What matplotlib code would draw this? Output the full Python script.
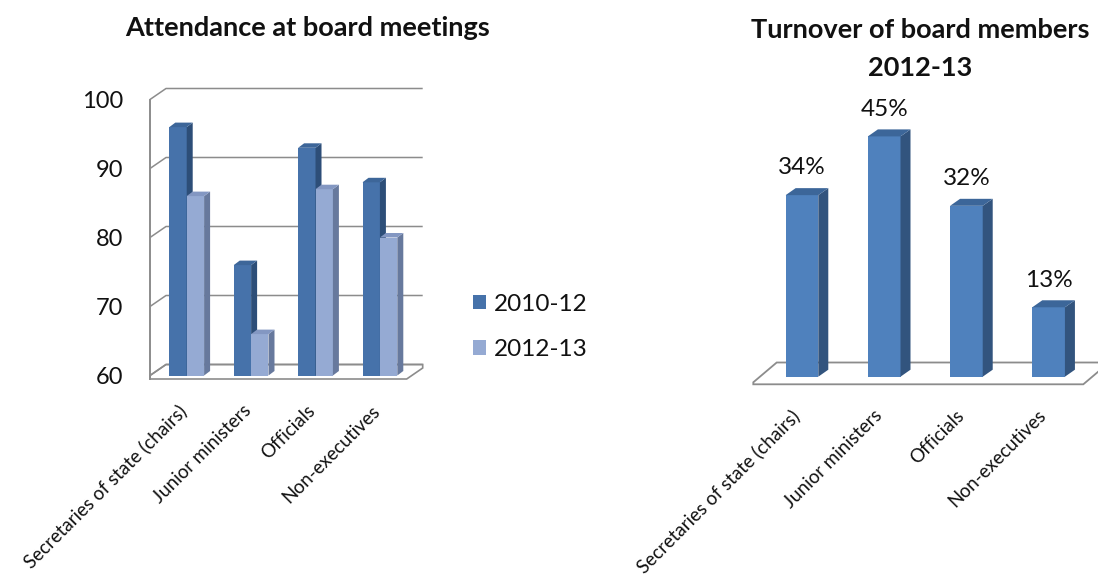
import matplotlib
matplotlib.use('Agg')
import matplotlib.pyplot as plt
from matplotlib.patches import Polygon
import numpy as np

# ---------------- data ----------------
categories = ['Secretaries of state (chairs)', 'Junior ministers', 'Officials', 'Non-executives']
series_names = ['2010-12', '2012-13']
attendance_2010_12 = [96, 76, 93, 88]
attendance_2012_13 = [86, 66, 87, 80]
attendance_ticks = [60, 70, 80, 90, 100]
turnover_2012_13 = [34, 45, 32, 13]
turnover_labels = ['34%', '45%', '32%', '13%']
title_left = 'Attendance at board meetings'
title_right = ['Turnover of board members', '2012-13']

# ---------------- style ----------------
plt.rcParams['font.family'] = ['Lato', 'DejaVu Sans']
TXT = '#111111'
GRID = '#8c8c8c'
DARK = ('#4672AA', '#2D4E78', '#3D6699')    # front, side, top
LIGHT = ('#95AAD3', '#67799D', '#8397C2')
RBAR = ('#4F81BD', '#32547E', '#3C6699')

W, H = 1098, 576
fig = plt.figure(figsize=(W / 100, H / 100), dpi=100)


def add_ax(l, r, t, b):
    return fig.add_axes([l / W, 1 - b / H, (r - l) / W, (b - t) / H])


def px2data(ax, dxp, dyp):
    bb = ax.get_position()
    wpx, hpx = bb.width * W, bb.height * H
    x0, x1 = ax.get_xlim()
    y0, y1 = ax.get_ylim()
    return dxp * (x1 - x0) / wpx, dyp * (y1 - y0) / hpx


def clean(ax):
    for s in ax.spines.values():
        s.set_visible(False)
    ax.patch.set_visible(False)


def bar3d(ax, xs, vals, base, w, cols, bdx, bdy, z):
    vals = np.asarray(vals, dtype=float)
    bars = ax.bar(xs, vals - base, bottom=base, width=w, color=cols[0],
                  edgecolor='none', zorder=z, clip_on=False)
    for x, v in zip(xs, vals):
        x0, x1 = x - w / 2, x + w / 2
        ax.add_patch(Polygon([(x1, base), (x1 + bdx, base + bdy), (x1 + bdx, v + bdy), (x1, v)],
                             closed=True, facecolor=cols[1], edgecolor='none', zorder=z, clip_on=False))
        ax.add_patch(Polygon([(x0, v), (x1, v), (x1 + bdx, v + bdy), (x0 + bdx, v + bdy)],
                             closed=True, facecolor=cols[2], edgecolor='none', zorder=z, clip_on=False))
    return bars


# ================= left chart =================
ax1 = add_ax(150, 406.7, 99.5, 375.5)
ax1.set_xlim(-0.570, 3.416)
ax1.set_ylim(60, 100)
clean(ax1)
xl, xr = ax1.get_xlim()
gdx, gdy = px2data(ax1, 16, 11)
_, thick = px2data(ax1, 0, 3.5)

# floor
ax1.add_patch(Polygon([(xl, 60 - thick), (xr, 60 - thick), (xr + gdx, 60 + gdy - thick),
                       (xr + gdx, 60 + gdy), (xl + gdx, 60 + gdy), (xl, 60)],
                      closed=True, facecolor='white', edgecolor=GRID, lw=1.2, zorder=1, clip_on=False))
# walls / gridlines
for v in attendance_ticks:
    ax1.plot([xl, xl + gdx, xr + gdx], [v, v + gdy, v + gdy], color=GRID, lw=1.1,
             zorder=1.5, clip_on=False, solid_capstyle='butt')
ax1.plot([xl, xl], [60 - thick, 100], color=GRID, lw=1.4, zorder=1.5, clip_on=False)

centers = np.arange(len(categories))
bw = 0.27
bdx, bdy = px2data(ax1, 6, 4.5)
b_dark = bar3d(ax1, centers - bw / 2, attendance_2010_12, 60, bw, DARK, bdx, bdy, 3)
b_light = bar3d(ax1, centers + bw / 2, attendance_2012_13, 60, bw, LIGHT, bdx, bdy, 4)

ax1.set_yticks(attendance_ticks)
ax1.set_yticklabels([str(t) for t in attendance_ticks])
ax1.tick_params(axis='y', length=0, pad=19.5, labelsize=17, labelcolor=TXT)
ax1.set_xticks(centers - 3 / 64.4)
ax1.set_xticklabels(categories, rotation=45, ha='right', va='center',
                    rotation_mode='anchor', fontsize=13.5, color=TXT)
ax1.tick_params(axis='x', length=0, pad=23.5)

fig.text(307.5 / W, 1 - 27.5 / H, title_left, ha='center', va='center',
         fontsize=19.5, fontweight='bold', color=TXT)

fig.legend(handles=[b_dark, b_light], labels=series_names, loc='center left',
           bbox_to_anchor=(473 / W, 1 - 327 / H), frameon=False, fontsize=17.5,
           handlelength=0.52, handleheight=0.52, handletextpad=0.35,
           labelspacing=1.0, borderpad=0, borderaxespad=0, labelcolor=TXT)

# ================= right chart =================
ax2 = add_ax(753.3, 1083.3, 109.7, 376.7)
ax2.set_xlim(-0.592, 3.422)
ax2.set_ylim(0, 50)
clean(ax2)
rl, rr = ax2.get_xlim()
fdx, _ = px2data(ax2, 23.4, 0)
_, f_front = px2data(ax2, 0, -5.6)
_, f_back = px2data(ax2, 0, 14.2)
_, fth = px2data(ax2, 0, 2)
ax2.add_patch(Polygon([(rl, f_front - fth), (rr, f_front - fth), (rr + fdx, f_back - fth),
                       (rr + fdx, f_back), (rl + fdx, f_back), (rl, f_front)],
                      closed=True, facecolor='white', edgecolor=GRID, lw=1.3, zorder=1, clip_on=False))

rbw = 0.397
rdx, rdy = px2data(ax2, 10, 7)
b_turn = bar3d(ax2, centers, turnover_2012_13, 0, rbw, RBAR, rdx, rdy, 3)
ax2.bar_label(b_turn, labels=turnover_labels, padding=12, fontsize=17.5, color=TXT)

ax2.set_yticks([])
ax2.set_xticks(centers - 5 / 82.2)
ax2.set_xticklabels(categories, rotation=45, ha='right', va='center',
                    rotation_mode='anchor', fontsize=13.5, color=TXT)
ax2.tick_params(axis='x', length=0, pad=26)

fig.text(920 / W, 1 - 30 / H, title_right[0], ha='center', va='center',
         fontsize=19.5, fontweight='bold', color=TXT)
fig.text(920 / W, 1 - 68 / H, title_right[1], ha='center', va='center',
         fontsize=19.5, fontweight='bold', color=TXT)

fig.savefig('out.png', dpi=100, facecolor='white')
